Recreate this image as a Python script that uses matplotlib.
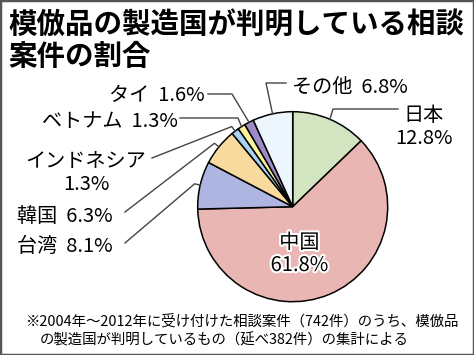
import matplotlib.pyplot as plt
import matplotlib.patheffects as pe
from matplotlib.patches import Rectangle
import numpy as np

plt.rcParams['font.family'] = ['Noto Sans CJK JP', 'DejaVu Sans']

# data (clockwise from 12 o'clock)
countries = ['日本', '中国', '台湾', '韓国', 'インドネシア', 'ベトナム', 'タイ', 'その他']
shares = [12.8, 61.8, 8.1, 6.3, 1.3, 1.3, 1.6, 6.8]
colors = ['#d3e5c0', '#eab6b3', '#adb5e0', '#f8da9e', '#a9d1f2', '#fbf29c', '#9d8bc6', '#eef6fd']

title_lines = ['模倣品の製造国が判明している相談', '案件の割合']
note_lines = ['※2004年～2012年に受け付けた相談案件（742件）のうち、模倣品',
              'の製造国が判明しているもの（延べ382件）の集計による']

W, H = 474, 355
cx, cy, R = 292.7, H - 206.7, 95

# label layout in pixels from top-left: text x, text y, ha, knee point (or None), line start
label_layout = {
    '日本': (424, 127, 'center', (333, 109), (398, 109)),
    '台湾': (17, 246, 'left', None, (125, 243)),
    '韓国': (17, 217, 'left', None, (125, 212)),
    'インドネシア': (86, 173, 'center', None, (152, 158)),
    'ベトナム': (178, 122, 'right', (238, 118), (180, 118)),
    'タイ': (205, 96, 'right', (232, 94), (208, 94)),
    'その他': (292, 87, 'left', (266, 83), (286, 83)),
}

fig = plt.figure(figsize=(W / 100, H / 100), dpi=100)
ax = fig.add_axes([0, 0, 1, 1])

wedges, _ = ax.pie(shares, colors=colors, startangle=90, counterclock=False,
                   center=(cx, cy), radius=R,
                   wedgeprops=dict(edgecolor='black', linewidth=1.1))
ax.set_xlim(0, W)
ax.set_ylim(0, H)
ax.set_aspect('equal')
ax.axis('off')

for w, name, val in zip(wedges, countries, shares):
    mid = np.deg2rad((w.theta1 + w.theta2) / 2)
    if name == '中国':
        fx = [pe.withStroke(linewidth=3, foreground='white')]
        ax.text(cx + 0.07 * R, cy - 0.5 * R, f'{name}\n{val}%', ha='center', va='center',
                fontsize=14.5, linespacing=1.1, path_effects=fx)
        continue
    tx, ty, ha, knee, start = label_layout[name]
    px, py = cx + 1.0 * R * np.cos(mid), cy + 1.0 * R * np.sin(mid)
    if knee is None:
        kx, ky = cx + 1.06 * R * np.cos(mid), cy + 1.06 * R * np.sin(mid)
    else:
        kx, ky = knee[0], H - knee[1]
    ax.plot([start[0], kx, px], [H - start[1], ky, py], color='#444444', lw=1.0)
    if name in ('日本', 'インドネシア'):
        txt = f'{name}\n{val}%'
    else:
        txt = f'{name}  {val}%'
    ax.text(tx, H - ty, txt, ha=ha, va='center', fontsize=14.5, linespacing=1.1,
            multialignment='center')

ax.text(8, H - 25, title_lines[0], ha='left', va='center', fontsize=20.5, fontweight='bold')
ax.text(8, H - 57, title_lines[1], ha='left', va='center', fontsize=20.5, fontweight='bold')

ax.text(25, H - 321, note_lines[0], ha='left', va='center', fontsize=10.4)
ax.text(40, H - 340, note_lines[1], ha='left', va='center', fontsize=10.4)

fig.patches.append(Rectangle((0, 0), 1, 1, transform=fig.transFigure, fill=False,
                             edgecolor='#555555', linewidth=2.5))

fig.savefig('out.png', dpi=100)
